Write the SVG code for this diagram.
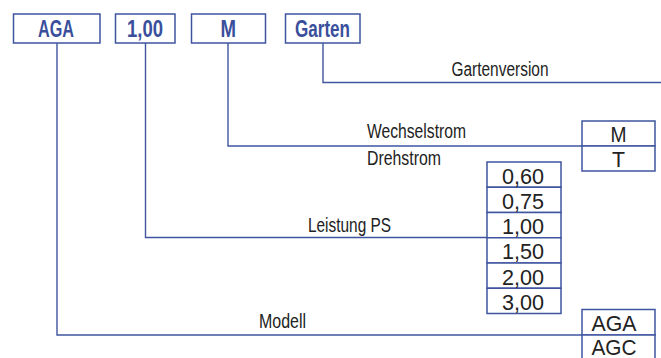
<svg xmlns="http://www.w3.org/2000/svg" width="661" height="358" viewBox="0 0 661 358">
<style>
.box{fill:#fff;stroke:#3f55a0;stroke-width:1.5}
.ln{fill:none;stroke:#3f55a0;stroke-width:1.4}
.hd{font-family:"Liberation Sans",Arial,sans-serif;font-weight:bold;font-size:23px;fill:#3a4f9c}
.lb{font-family:"Liberation Sans",Arial,sans-serif;font-size:19.5px;fill:#222}
.vl{font-family:"Liberation Sans",Arial,sans-serif;font-size:22.5px;fill:#222;text-anchor:middle}
</style>
<rect width="661" height="358" fill="#fff"/>
<g id="connectors">
<polyline class="ln" points="57,43 57,335 582,335"/>
<polyline class="ln" points="145.5,43 145.5,237.5 487,237.5"/>
<polyline class="ln" points="228,43 228,146 582,146"/>
<polyline class="ln" points="323,43 323,82.5 661,82.5"/>
</g>
<g id="node-aga">
<rect class="box" x="13.5" y="14" width="86.5" height="29"/>
<text class="hd" x="38" y="36.5" textLength="36" lengthAdjust="spacingAndGlyphs">AGA</text>
</g>
<g id="node-100">
<rect class="box" x="115.5" y="14" width="59.5" height="29"/>
<text class="hd" x="127" y="36.5" textLength="36" lengthAdjust="spacingAndGlyphs">1,00</text>
</g>
<g id="node-m">
<rect class="box" x="191.5" y="14" width="74" height="29"/>
<text class="hd" x="220.5" y="36.5" textLength="15.5" lengthAdjust="spacingAndGlyphs">M</text>
</g>
<g id="node-garten">
<rect class="box" x="285.5" y="14" width="74.5" height="29"/>
<text class="hd" x="295" y="36.5" textLength="55" lengthAdjust="spacingAndGlyphs">Garten</text>
</g>
<g id="labels">
<text class="lb" x="451.5" y="76" textLength="97" lengthAdjust="spacingAndGlyphs">Gartenversion</text>
<text class="lb" x="367" y="138" textLength="99" lengthAdjust="spacingAndGlyphs">Wechselstrom</text>
<text class="lb" x="367" y="165" textLength="74" lengthAdjust="spacingAndGlyphs">Drehstrom</text>
<text class="lb" x="308" y="232" textLength="83" lengthAdjust="spacingAndGlyphs">Leistung PS</text>
<text class="lb" x="259" y="328" textLength="47" lengthAdjust="spacingAndGlyphs">Modell</text>
</g>
<g id="node-strom">
<rect class="box" x="582" y="121" width="73" height="25"/>
<rect class="box" x="582" y="146" width="73" height="25"/>
<text class="vl" x="618.5" y="141.5" textLength="16" lengthAdjust="spacingAndGlyphs">M</text>
<text class="vl" x="618.5" y="166.5" textLength="13" lengthAdjust="spacingAndGlyphs">T</text>
</g>
<g id="node-leistung">
<rect class="box" x="487" y="162" width="74" height="25.25"/>
<rect class="box" x="487" y="187.25" width="74" height="25.25"/>
<rect class="box" x="487" y="212.5" width="74" height="25.25"/>
<rect class="box" x="487" y="237.75" width="74" height="25.25"/>
<rect class="box" x="487" y="263" width="74" height="25.25"/>
<rect class="box" x="487" y="288.25" width="74" height="25.25"/>
<text class="vl" x="523" y="183.5" textLength="42" lengthAdjust="spacingAndGlyphs">0,60</text>
<text class="vl" x="523" y="208.75" textLength="42" lengthAdjust="spacingAndGlyphs">0,75</text>
<text class="vl" x="523" y="234" textLength="42" lengthAdjust="spacingAndGlyphs">1,00</text>
<text class="vl" x="523" y="259.25" textLength="42" lengthAdjust="spacingAndGlyphs">1,50</text>
<text class="vl" x="523" y="284.5" textLength="42" lengthAdjust="spacingAndGlyphs">2,00</text>
<text class="vl" x="523" y="309.75" textLength="42" lengthAdjust="spacingAndGlyphs">3,00</text>
</g>
<g id="node-modell">
<rect class="box" x="582" y="309.5" width="73" height="25.5"/>
<rect class="box" x="582" y="335" width="73" height="26"/>
<text class="vl" x="614" y="331" textLength="45" lengthAdjust="spacingAndGlyphs">AGA</text>
<text class="vl" x="614" y="354.5" textLength="45" lengthAdjust="spacingAndGlyphs">AGC</text>
</g>
</svg>
